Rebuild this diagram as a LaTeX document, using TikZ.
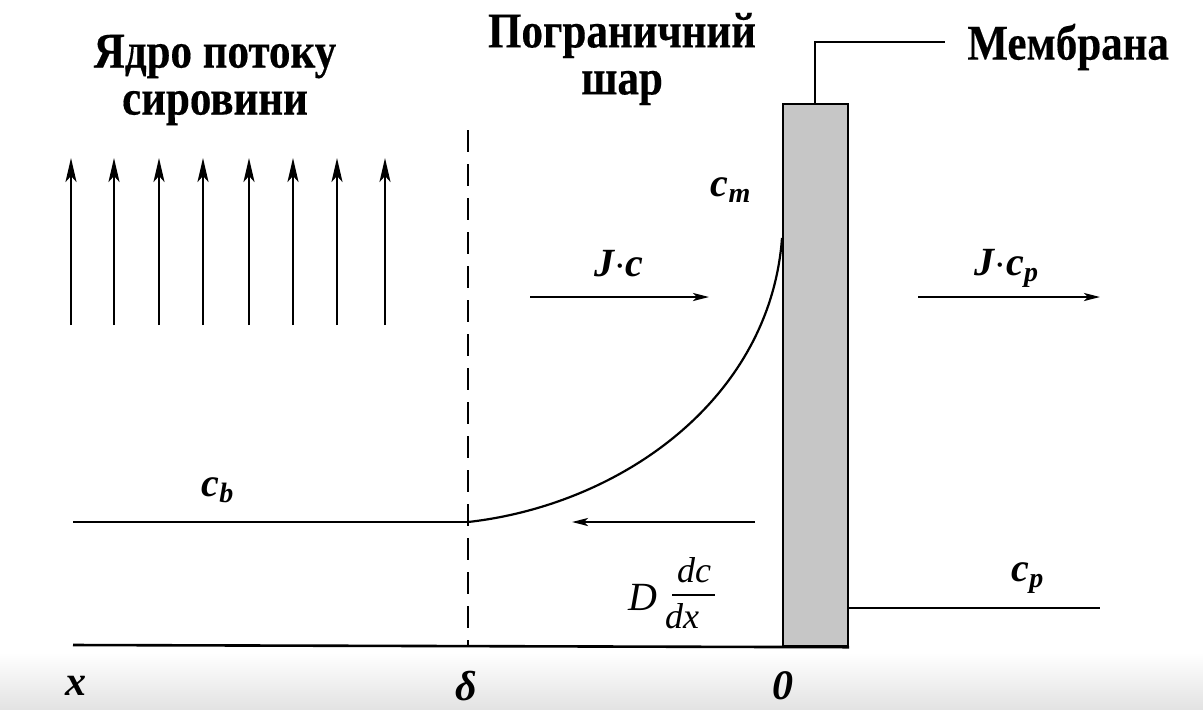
\documentclass[tikz,border=0pt]{standalone}
\usepackage{fontspec}
\setmainfont{Liberation Serif}
\newfontfamily\ttlfont[FakeStretch=0.86,FakeBold=0.3]{Liberation Serif Bold}
\usetikzlibrary{arrows.meta}
\begin{document}
\begin{tikzpicture}[x=0.5pt,y=-0.5pt,
  ln/.style={line width=1.3pt},
  uparr/.style={line width=1.2pt,-{Stealth[length=12pt,width=5.5pt,inset=3pt]}},
  harr/.style={line width=1.2pt,-{Stealth[length=8pt,width=4pt,inset=2pt]}},
  ttl/.style={font=\fontsize{25}{23.5}\ttlfont, align=center, inner sep=0pt},
  lbl/.style={font=\fontsize{20}{22}\selectfont\bfseries\itshape, inner sep=0pt},
  axl/.style={font=\fontsize{21}{22}\selectfont\bfseries\itshape, inner sep=0pt},
  frl/.style={font=\fontsize{18}{20}\selectfont\itshape, inner sep=0pt},
]
\useasboundingbox (0,0) rectangle (1203,709);
\shade[top color=white,bottom color=gray!22] (0,652) rectangle (1203,709);

% titles
\node[ttl] (core) at (215,80) {Ядро потоку\\сировини};
\node[ttl] (bl) at (622,59) {Пограничний\\шар};
\node[ttl,anchor=west] (mem) at (967,47) {Мембрана};

% membrane
\node[draw,line width=1.1pt,fill=gray!45,minimum width=32.5pt,minimum height=271pt,inner sep=0pt,anchor=north west] (M) at (782,103) {};
\coordinate (lead) at (815,42);
\coordinate (leadend) at (945,42);
\draw[line width=1pt] (M.north -| lead) -- (lead) -- (leadend);

% up arrows
\foreach \i/\x in {1/71,2/114,3/159,4/203,5/249,6/293,7/337,8/385}{
  \coordinate (s\i) at (\x,325);
  \coordinate (t\i) at (\x,158);
  \draw[uparr] (s\i) -- (t\i);
}

% axes and lines
\coordinate (x0) at (73,645);
\coordinate (cb0) at (73,522);
\coordinate (d0) at (468,522);
\coordinate (dtop) at (468,130);
\coordinate (dbot) at (468,645);
\coordinate (cm) at (782,238);
\draw[ln] (x0) -- (M.south east);
\draw[line width=1.1pt,dash pattern=on 11pt off 6pt] (dtop) -- (dbot);
\draw[ln] (cb0) -- (d0);
\draw[line width=1.1pt] (d0) .. controls (620,505) and (770,400) .. (cm);
\coordinate (cp1) at (847,608);
\coordinate (cp2) at (1100,608);
\draw[ln] (cp1) -- (cp2);

% flux arrows
\coordinate (j1) at (530,297); \coordinate (j2) at (709,297);
\draw[harr] (j1) -- (j2);
\coordinate (jp1) at (918,297); \coordinate (jp2) at (1100,297);
\draw[harr] (jp1) -- (jp2);
\coordinate (dd1) at (755,522); \coordinate (dd2) at (572,522);
\draw[harr] (dd1) -- (dd2);

% labels
\node[lbl] (lcm) at (731,190) {c\textsubscript{m}};
\node[lbl] (ljc) at (619,264) {J$\cdot$c};
\node[lbl] (ljcp) at (1007,268) {J$\cdot$c\textsubscript{p}};
\node[lbl] (lcb) at (218,490) {c\textsubscript{b}};
\node[lbl] (lcp) at (1028,578) {c\textsubscript{p}};
\node[frl,font=\fontsize{20}{22}\selectfont\itshape,anchor=base] (lD) at (643,610) {D};
\node[frl,anchor=base] (ldc) at (694,582) {dc};
\node[frl,anchor=base] (ldx) at (682,628) {dx};
\coordinate (bar1) at (672,595); \coordinate (bar2) at (715,595);
\draw[line width=0.9pt] (bar1) -- (bar2);
\node[axl] (lx) at (76,686) {x};
\node[axl] (ld) at (466,686) {δ};
\node[axl] (l0) at (783,686) {0};
\end{tikzpicture}
\end{document}
